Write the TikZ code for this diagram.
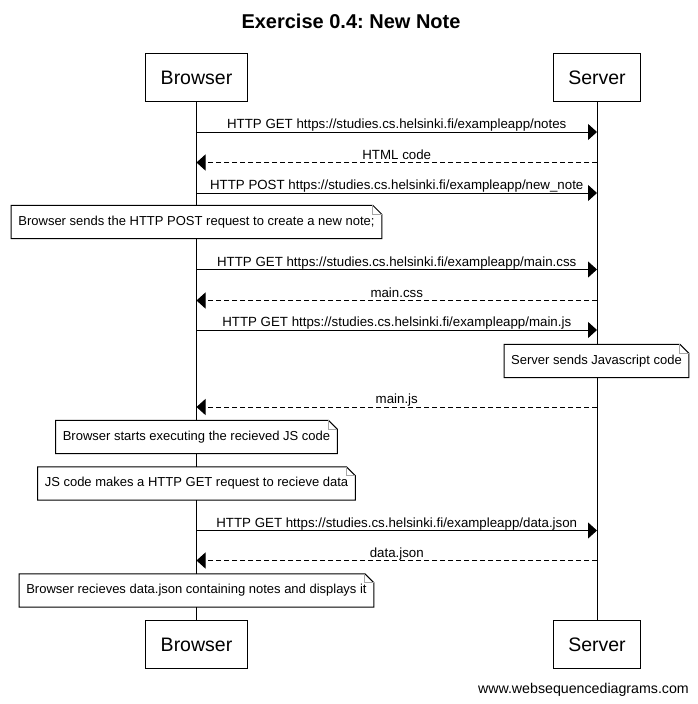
\documentclass[tikz,border=0pt]{standalone}
\usepackage{fontspec}
\setmainfont{Liberation Sans}
\usetikzlibrary{arrows.meta}
\frenchspacing
\tikzset{
  actor/.style={draw, line width=1pt, fill=white, minimum height=48pt, inner xsep=15pt, font=\fontsize{19.5}{22}\selectfont},
  msg/.style={line width=1pt, -{Triangle[length=9pt,width=16pt]}},
  reply/.style={msg, dash pattern=on 5pt off 3pt},
  lbl/.style={midway, anchor=base, yshift=3.5pt, inner sep=0pt, font=\fontsize{13.3}{15}\selectfont},
  notebox/.style={fill=white, inner xsep=7pt, inner ysep=0pt, minimum height=33pt, font=\fontsize{13}{15}\selectfont},
  noteline/.style={line width=1pt},
  foldline/.style={line width=1pt, gray!70}
}
\newcommand\notefold[1]{%
  \draw[noteline] (#1.south west) -- (#1.north west) -- ([xshift=-9pt]#1.north east) -- ([yshift=-9pt]#1.north east) -- (#1.south east) -- cycle;
  \draw[foldline] ([xshift=-9pt]#1.north east) |- ([yshift=-9pt]#1.north east);
}
\begin{document}
\begin{tikzpicture}[x=1pt,y=-1pt]
\useasboundingbox (0,0) rectangle (698,704);
\node[font=\bfseries\fontsize{20}{22}\selectfont] (title) at (351,21.5) {Exercise 0.4: New Note};
\node[actor] (B) at (196.5,77.5) {Browser};
\node[actor] (S) at (597,77.5) {Server};
\node[actor] (B2) at (196.5,644.5) {Browser};
\node[actor] (S2) at (597,644.5) {Server};
\draw[line width=1pt] (B) -- (B2);
\draw[line width=1pt] (S) -- (S2);
\draw[msg] (B |- 0,132) -- node[lbl] {HTTP GET https://studies.cs.helsinki.fi/exampleapp/notes} (S |- 0,132);
\draw[reply] (S |- 0,162.5) -- node[lbl] {HTML code} (B |- 0,162.5);
\draw[msg] (B |- 0,193) -- node[lbl] {HTTP POST https://studies.cs.helsinki.fi/exampleapp/new\_note} (S |- 0,193);
\node[notebox] (n1) at (196.5,222) {Browser sends the HTTP POST request to create a new note;};
\notefold{n1}
\draw[msg] (B |- 0,269.5) -- node[lbl] {HTTP GET https://studies.cs.helsinki.fi/exampleapp/main.css} (S |- 0,269.5);
\draw[reply] (S |- 0,300.5) -- node[lbl] {main.css} (B |- 0,300.5);
\draw[msg] (B |- 0,330) -- node[lbl] {HTTP GET https://studies.cs.helsinki.fi/exampleapp/main.js} (S |- 0,330);
\node[notebox] (n2) at (596.5,361) {Server sends Javascript code};
\notefold{n2}
\draw[reply] (S |- 0,407) -- node[lbl] {main.js} (B |- 0,407);
\node[notebox] (n3) at (196.5,437) {Browser starts executing the recieved JS code};
\notefold{n3}
\node[notebox] (n4) at (196.5,483.5) {JS code makes a HTTP GET request to recieve data};
\notefold{n4}
\draw[msg] (B |- 0,530.5) -- node[lbl] {HTTP GET https://studies.cs.helsinki.fi/exampleapp/data.json} (S |- 0,530.5);
\draw[reply] (S |- 0,560.5) -- node[lbl] {data.json} (B |- 0,560.5);
\node[notebox] (n5) at (196.5,590.5) {Browser recieves data.json containing notes and displays it};
\notefold{n5}
\node[anchor=base east, inner sep=0pt, font=\fontsize{14.2}{16}\selectfont] (foot) at (689,693) {www.websequencediagrams.com};
\end{tikzpicture}
\end{document}
